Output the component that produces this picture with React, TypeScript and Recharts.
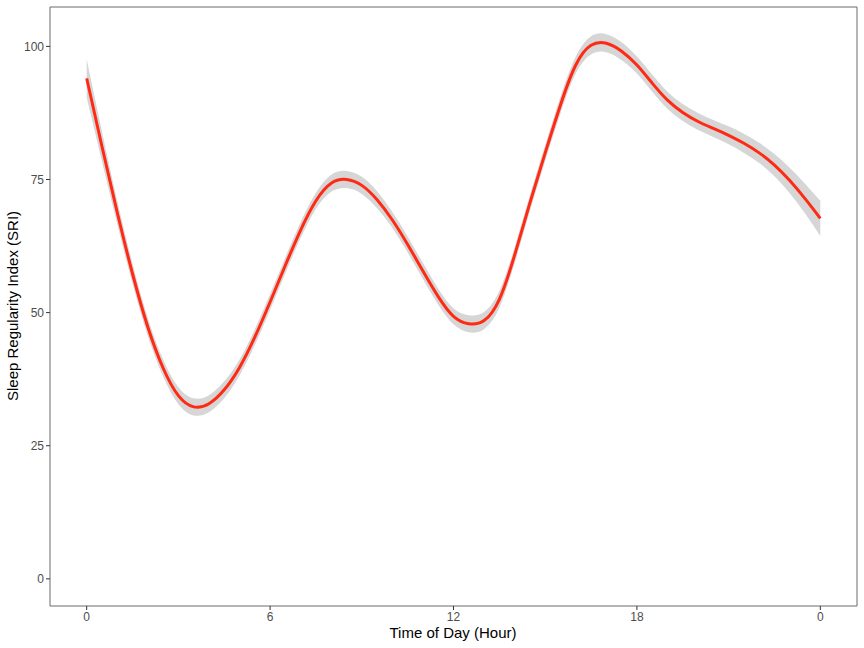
import {
  ComposedChart,
  Area,
  Line,
  XAxis,
  YAxis,
  ReferenceArea,
} from "recharts";

// hours since midnight, read every half hour
const hours = [
  0, 0.5, 1, 1.5, 2, 2.5, 3, 3.5, 4, 4.5, 5, 5.5, 6, 6.5, 7, 7.5, 8, 8.5, 9, 9.5,
  10, 10.5, 11, 11.5, 12, 12.5, 13, 13.5, 14, 14.5, 15, 15.5, 16, 16.5, 17, 17.5,
  18, 18.5, 19, 19.5, 20, 20.5, 21, 21.5, 22, 22.5, 23, 23.5, 24,
];

// smoothed SRI
const sri = [
  94.0, 81.2, 68.8, 57.3, 47.3, 39.6, 34.4, 32.3, 32.9, 35.5, 39.7, 45.4, 52.0,
  58.9, 65.5, 71.0, 74.3, 75.0, 73.9, 71.2, 67.4, 62.8, 57.8, 53.0, 49.3, 47.9,
  48.5, 52.5, 60.8, 70.6, 80.0, 89.0, 96.5, 100.2, 100.6, 99.1, 96.5, 93.1, 89.9,
  87.6, 85.9, 84.6, 83.3, 81.8, 80.0, 77.7, 74.8, 71.4, 67.7,
];

// half width of the confidence band
const halfWidth = [
  3.6, 2.8, 2.2, 1.9, 1.7, 1.6, 1.6, 1.6, 1.6, 1.6, 1.5, 1.5, 1.5, 1.5, 1.5, 1.5,
  1.6, 1.6, 1.6, 1.6, 1.5, 1.5, 1.5, 1.5, 1.5, 1.6, 1.6, 1.6, 1.5, 1.5, 1.5, 1.6,
  1.6, 1.7, 1.7, 1.7, 1.6, 1.6, 1.6, 1.6, 1.6, 1.6, 1.7, 1.8, 1.9, 2.1, 2.4, 2.8,
  3.3,
];

const xTicks = [0, 6, 12, 18, 24];
const yTicks = [0, 25, 50, 75, 100];

const data = hours.map((h, i) => ({
  hour: h,
  sri: sri[i],
  band: [sri[i] - halfWidth[i], sri[i] + halfWidth[i]],
}));

const font = "'Liberation Sans', Arial, sans-serif";
const tickStyle = { fontSize: 12, fill: "#4d4d4d", fontFamily: font };

export default function App() {
  return (
    <div style={{ position: "absolute", left: 0, top: 0 }}>
      <ComposedChart
        width={864}
        height={648}
        data={data}
        margin={{ top: 7, right: 7, left: 0, bottom: 0 }}
      >
        <XAxis
          type="number"
          dataKey="hour"
          domain={[-1.2, 25.2]}
          ticks={xTicks}
          tickFormatter={(v) => (v === 24 ? "0" : String(v))}
          tick={tickStyle}
          tickSize={4}
          tickMargin={2}
          tickLine={{ stroke: "#333333" }}
          axisLine={false}
          height={42}
          allowDataOverflow
          label={() => (
            <text
              x={453}
              y={638}
              textAnchor="middle"
              fontSize={15}
              fontFamily={font}
              fill="#000"
            >
              Time of Day (Hour)
            </text>
          )}
        />
        <YAxis
          type="number"
          domain={[-5.1, 107.4]}
          ticks={yTicks}
          tick={tickStyle}
          tickSize={4}
          tickMargin={2}
          tickLine={{ stroke: "#333333" }}
          axisLine={false}
          width={50}
          allowDataOverflow
          label={() => (
            <text
              x={18}
              y={306}
              transform="rotate(-90 18 306)"
              textAnchor="middle"
              fontSize={15}
              fontFamily={font}
              fill="#000"
            >
              Sleep Regularity Index (SRI)
            </text>
          )}
        />
        <Area
          dataKey="band"
          type="natural"
          fill="#d6d6d6"
          fillOpacity={1}
          stroke="none"
          isAnimationActive={false}
          activeDot={false}
        />
        <Line
          dataKey="sri"
          type="natural"
          stroke="#ff2a14"
          strokeWidth={3}
          dot={false}
          activeDot={false}
          isAnimationActive={false}
        />
        <ReferenceArea
          x1={-1.2}
          x2={25.2}
          y1={-5.1}
          y2={107.4}
          fill="none"
          stroke="#6b6b6b"
          strokeWidth={1}
          ifOverflow="visible"
        />
      </ComposedChart>
    </div>
  );
}
